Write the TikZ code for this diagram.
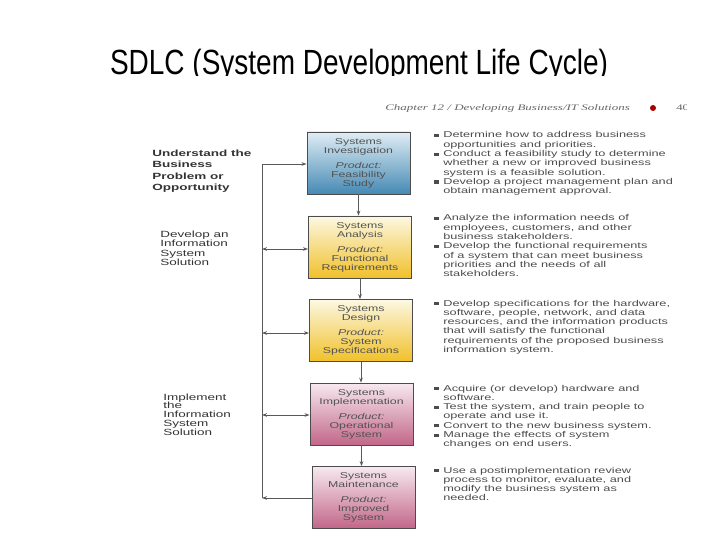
\documentclass[tikz,border=0pt]{standalone}
\usepackage{fontspec}
\setmainfont{Liberation Sans}
\newfontfamily\libro{Liberation Serif}
\usetikzlibrary{arrows.meta}
\definecolor{azulA}{RGB}{224,237,245}
\definecolor{azulB}{RGB}{70,138,180}
\definecolor{amaA}{RGB}{252,248,226}
\definecolor{amaB}{RGB}{241,192,42}
\definecolor{rosaA}{RGB}{247,233,239}
\definecolor{rosaB}{RGB}{194,102,136}
\newcommand\bul{\leavevmode\llap{\rule[0.8pt]{2.8pt}{3.2pt}\hspace{3.2pt}}}
\tikzset{
  fase/.style={draw=black!70,line width=0.7pt,xscale=1.45,minimum width=71pt,
    minimum height=62pt,inner sep=0pt,align=center,text=black!68,
    font=\fontsize{8.5}{9}\selectfont},
  izq/.style={anchor=base west,align=left,xscale=1.5,inner sep=0pt,text=black!80},
  der/.style={anchor=base west,align=left,xscale=1.5,inner sep=0pt,text=black!70,
    font=\fontsize{8.5}{9.3}\selectfont},
  flecha/.style={draw=black!65,line width=0.7pt,-{Stealth[length=5pt,width=3.6pt]}},
  flechados/.style={draw=black!65,line width=0.7pt,
    {Stealth[length=5pt,width=3.6pt]}-{Stealth[length=5pt,width=3.6pt]}}
}
\begin{document}
\begin{tikzpicture}[x=1pt,y=-1pt]
\useasboundingbox (0,0) rectangle (720,540);
    %Titulo
    \begin{scope}
        \clip (0,0) rectangle (720,75.5);
        \node[anchor=base,inner sep=0pt,yscale=1.25,font=\fontsize{28}{30}\selectfont] (tit) at (359,74.5) {SDLC (System Development Life Cycle)};
    \end{scope}

    %Encabezado del libro (base = ultima linea)
    \node[anchor=base west,inner sep=0pt,xscale=1.53,text=black!60,font=\libro\itshape\fontsize{8.5}{9}\selectfont] (cap) at (385,111) {Chapter 12 / Developing Business/IT Solutions};
    \fill[red!65!black] (653,108) circle (3);
    \begin{scope}
        \clip (660,95) rectangle (686,120);
        \node[anchor=base west,inner sep=0pt,xscale=1.5,text=black!60,font=\libro\fontsize{8.5}{9}\selectfont] (pag) at (676,111) {40};
    \end{scope}

    %Cajas
    \node[fase,top color=azulA,bottom color=azulB] (inv) at (358.5,163) {Systems\\Investigation\\[6pt]\textit{Product:}\\Feasibility\\Study};
    \node[fase,top color=amaA,bottom color=amaB] (ana) at (360,247) {Systems\\Analysis\\[6pt]\textit{Product:}\\Functional\\Requirements};
    \node[fase,top color=amaA,bottom color=amaB] (des) at (361,330.5) {Systems\\Design\\[6pt]\textit{Product:}\\System\\Specifications};
    \node[fase,top color=rosaA,bottom color=rosaB] (imp) at (361.5,414) {Systems\\Implementation\\[6pt]\textit{Product:}\\Operational\\System};
    \node[fase,top color=rosaA,bottom color=rosaB] (mnt) at (363.5,497.5) {Systems\\Maintenance\\[6pt]\textit{Product:}\\Improved\\System};

    %Flechas entre fases
    \foreach \a/\b in {inv/ana,ana/des,des/imp,imp/mnt}{
        \draw[flecha] (\a.south) -- (\a.south |- \b.north);
    }

    %Linea de retorno
    \coordinate (lA) at (262,164);
    \coordinate (lB) at (262,249);
    \coordinate (lC) at (262,333);
    \coordinate (lD) at (262,415);
    \coordinate (lE) at (262,498);
    \draw[flecha] (lE) -- (lA) -- (lA -| inv.west);
    \foreach \c/\n in {lB/ana,lC/des,lD/imp}{
        \draw[flechados] (\c) -- (\c -| \n.west);
    }
    \draw[flecha] (lE -| mnt.west) -- (lE);

    %Etapas
    \node[izq,font=\bfseries\fontsize{9}{11.5}\selectfont] (e1) at (152,191) {Understand the\\Business\\Problem or\\Opportunity};
    \node[izq,font=\fontsize{9}{9.3}\selectfont] (e2) at (160,265.4) {Develop an\\Information\\System\\Solution};
    \node[izq,font=\fontsize{9}{8.9}\selectfont] (e3) at (163,435.6) {Implement\\the\\Information\\System\\Solution};

    %Actividades
    \node[der] (t1) at (443,193.8) {\bul Determine how to address business\\opportunities and priorities.\\\bul Conduct a feasibility study to determine\\whether a new or improved business\\system is a feasible solution.\\\bul Develop a project management plan and\\obtain management approval.};
    \node[der] (t2) at (443,276.8) {\bul Analyze the information needs of\\employees, customers, and other\\business stakeholders.\\\bul Develop the functional requirements\\of a system that can meet business\\priorities and the needs of all\\stakeholders.};
    \node[der] (t3) at (443,352.5) {\bul Develop specifications for the hardware,\\software, people, network, and data\\resources, and the information products\\that will satisfy the functional\\requirements of the proposed business\\information system.};
    \node[der] (t4) at (443,446.8) {\bul Acquire (or develop) hardware and\\software.\\\bul Test the system, and train people to\\operate and use it.\\\bul Convert to the new business system.\\\bul Manage the effects of system\\changes on end users.};
    \node[der] (t5) at (443,500.9) {\bul Use a postimplementation review\\process to monitor, evaluate, and\\modify the business system as\\needed.};
\end{tikzpicture}
\end{document}
